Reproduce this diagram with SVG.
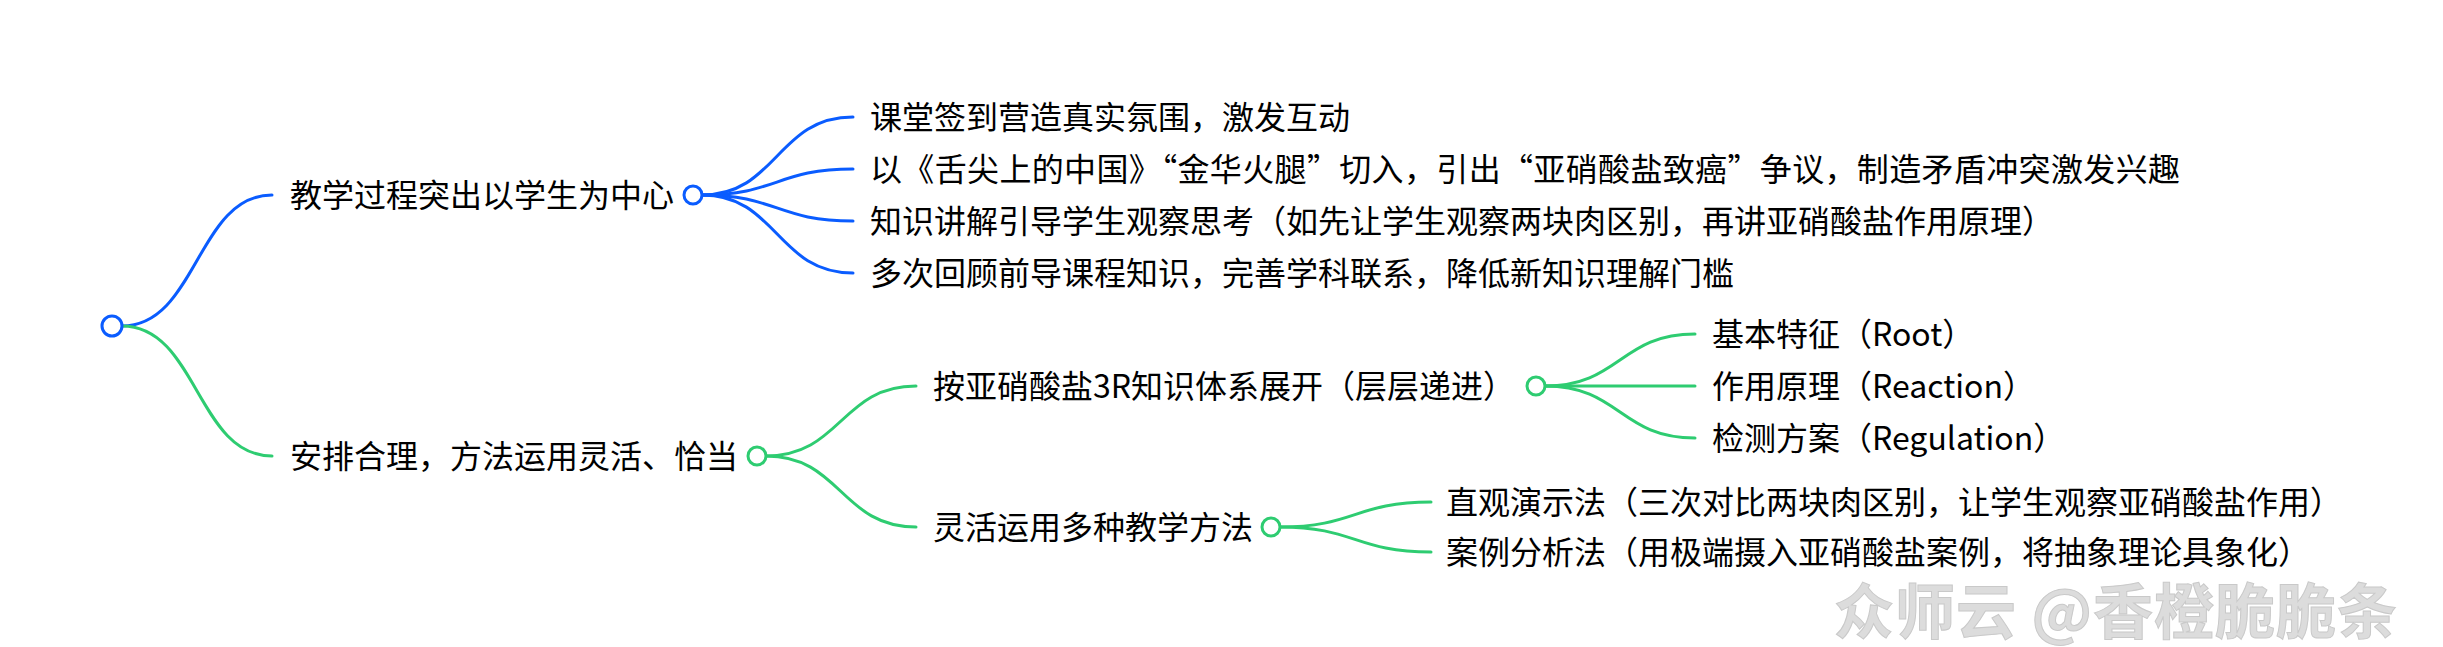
<svg xmlns="http://www.w3.org/2000/svg" width="2443" height="647" viewBox="0 0 2443 647">
<style>
text{font-family:"Noto Sans CJK SC","Microsoft YaHei",sans-serif;font-size:32px;fill:#000}
.lb{fill:none;stroke:#0a5cff;stroke-width:3;stroke-linecap:round}
.lg{fill:none;stroke:#2ecc71;stroke-width:3;stroke-linecap:round}
.cb{fill:#fff;stroke:#0a5cff;stroke-width:3}
.cg{fill:#fff;stroke:#2ecc71;stroke-width:3}
.wm{font-size:60px;font-weight:bold;fill:#dcdcdc;stroke:#c9c9c9;stroke-width:1}
</style>
<rect width="2443" height="647" fill="#fff"/>
<g id="connectors">
<path class="lb" d="M122,326 C197,326 197,195 272,195"/>
<path class="lg" d="M122,326 C197,326 197,456 272,456"/>
<path class="lb" d="M702,195 C777,195 777,117 853,117"/>
<path class="lb" d="M702,195 C777,195 777,169 853,169"/>
<path class="lb" d="M702,195 C777,195 777,221 853,221"/>
<path class="lb" d="M702,195 C777,195 777,273 853,273"/>
<path class="lg" d="M766,456 C841,456 841,386 916,386"/>
<path class="lg" d="M766,456 C841,456 841,527 916,527"/>
<path class="lg" d="M1545,386 C1620,386 1620,334 1695,334"/>
<path class="lg" d="M1545,386 L1695,386"/>
<path class="lg" d="M1545,386 C1620,386 1620,438 1695,438"/>
<path class="lg" d="M1280,527 C1355,527 1355,502 1431,502"/>
<path class="lg" d="M1280,527 C1355,527 1355,552 1431,552"/>
</g>
<g id="root"><circle class="cb" cx="112" cy="326" r="10"/></g>
<g id="b1"><text x="290" y="207">教学过程突出以学生为中心</text><circle class="cb" cx="693" cy="195" r="9"/></g>
<g id="b1c1"><text x="870" y="129">课堂签到营造真实氛围，激发互动</text></g>
<g id="b1c2"><text x="870" y="181" textLength="1310" lengthAdjust="spacing">以《舌尖上的中国》“金华火腿”切入，引出“亚硝酸盐致癌”争议，制造矛盾冲突激发兴趣</text></g>
<g id="b1c3"><text x="870" y="233">知识讲解引导学生观察思考（如先让学生观察两块肉区别，再讲亚硝酸盐作用原理）</text></g>
<g id="b1c4"><text x="870" y="285">多次回顾前导课程知识，完善学科联系，降低新知识理解门槛</text></g>
<g id="b2"><text x="290" y="468">安排合理，方法运用灵活、恰当</text><circle class="cg" cx="757" cy="456" r="9"/></g>
<g id="b2c1"><text x="933" y="398">按亚硝酸盐3R知识体系展开（层层递进）</text><circle class="cg" cx="1536" cy="386" r="9"/></g>
<g id="r1"><text x="1712" y="346">基本特征（Root）</text></g>
<g id="r2"><text x="1712" y="398">作用原理（Reaction）</text></g>
<g id="r3"><text x="1712" y="450">检测方案（Regulation）</text></g>
<g id="b2c2"><text x="933" y="539">灵活运用多种教学方法</text><circle class="cg" cx="1271" cy="527" r="9"/></g>
<g id="m1"><text x="1446" y="514">直观演示法（三次对比两块肉区别，让学生观察亚硝酸盐作用）</text></g>
<g id="m2"><text x="1446" y="564">案例分析法（用极端摄入亚硝酸盐案例，将抽象理论具象化）</text></g>
<text class="wm" x="1834" y="634" textLength="563" lengthAdjust="spacing">众师云 @香橙脆脆条</text>
</svg>
